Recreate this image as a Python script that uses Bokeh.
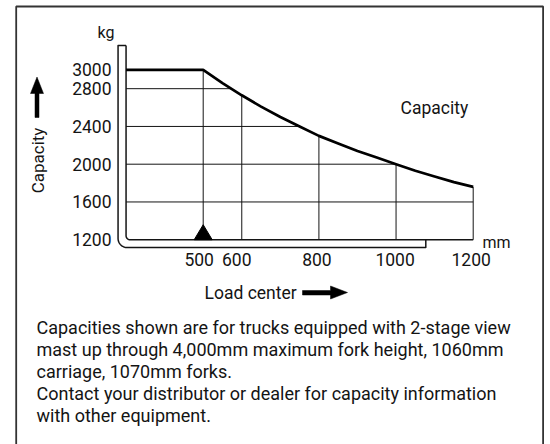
import numpy as np
from bokeh.plotting import figure
from bokeh.models import Range1d
from bokeh.core.properties import value
from bokeh.embed import file_html
from bokeh.resources import INLINE

# ---- data ----
load_center = [300, 500, 550, 600, 650, 700, 750, 800, 850, 900, 950, 1000, 1050, 1100, 1150, 1200]
capacity = [3000, 3000, 2860, 2730, 2610, 2500, 2400, 2300, 2220, 2140, 2070, 2000, 1930, 1870, 1810, 1760]
x_ticks = [500, 600, 800, 1000, 1200]
x_tick_labels = ["500", "600", "800", "1000", "1200"]
y_ticks = [3000, 2800, 2400, 2000, 1600, 1200]
y_tick_labels = ["3000", "2800", "2400", "2000", "1600", "1200"]
grid_levels = [2800, 2400, 2000, 1600]
grid_centers = [500, 600, 800, 1000, 1200]
note_lines = [
    "Capacities shown are for trucks equipped with 2-stage view",
    "mast up through 4,000mm maximum fork height, 1060mm",
    "carriage, 1070mm forks.",
    "Contact your distributor or dealer for capacity information",
    "with other equipment.",
]

FONT = "Roboto"
INK = "#141414"

# page-pixel scale of the drawing (figure sits at page origin)
OFF = 0
X500_PX, SX = 202.7, 0.3857   # px per mm
Y3000_PX, SY = 69.3, 0.0944   # px per kg
W, H = 550, 444


def px2x(px):
    return 500 + (px - X500_PX) / SX


def py2y(py):
    return 3000 - (py - Y3000_PX) / SY


def X(mm):
    return X500_PX + (mm - 500) * SX


def Y(kg):
    return Y3000_PX + (3000 - kg) * SY


def conv(pts):
    return [px2x(a) for a, b in pts], [py2y(b) for a, b in pts]


p = figure(width=W, height=H, output_backend="svg", toolbar_location=None,
           x_range=Range1d(px2x(OFF), px2x(OFF + W)), y_range=Range1d(py2y(OFF + H), py2y(OFF)),
           x_axis_location=None, y_axis_location=None, min_border=0,
           outline_line_color=None, background_fill_color="white", border_fill_color="white")
p.grid.visible = False

# outer frame (bottom edge is off-page)
fx, fy = conv([(15.7, OFF + H + 2), (15.7, 6.0), (542.6, 6.0), (542.6, OFF + H + 2)])
p.line(fx, fy, line_color="#333333", line_width=1.8)

# grid under the curve
lc = np.array(load_center, dtype=float)
cp = np.array(capacity, dtype=float)
xmin, ymin = load_center[0], y_ticks[-1]
h_end = [float(np.interp(v, cp[::-1], lc[::-1])) for v in grid_levels]
p.segment(x0=[xmin] * len(grid_levels), y0=grid_levels, x1=h_end, y1=grid_levels,
          line_color=INK, line_width=1)
v_top = [float(np.interp(t, lc, cp)) for t in grid_centers]
p.segment(x0=grid_centers, y0=[ymin] * len(grid_centers), x1=grid_centers, y1=v_top,
          line_color=INK, line_width=1)

# bracket-shaped axes (double line)
ix, iy = X(xmin), Y(ymin)
top_cap = 45.0
r_in, r_out = 4.0, 9.0
ox, oy = ix - 8.0, iy + 7.8
fork_end_px = 425.3
inner = [(ix, top_cap), (ix, iy - r_in)]
for a in np.linspace(np.pi, np.pi / 2, 10):
    inner.append((ix + r_in + r_in * np.cos(a), iy - r_in + r_in * np.sin(a)))
inner.append((X(x_ticks[-1]), iy))
outer = [(ix, top_cap), (ox, top_cap), (ox, oy - r_out)]
for a in np.linspace(np.pi, np.pi / 2, 12):
    outer.append((ox + r_out + r_out * np.cos(a), oy - r_out + r_out * np.sin(a)))
outer += [(fork_end_px, oy), (fork_end_px, iy)]
for path in (inner, outer):
    xs, ys = conv(path)
    p.line(xs, ys, line_color=INK, line_width=1.5, line_join="round")

# capacity curve
p.line(load_center, capacity, line_color="black", line_width=2.7, line_join="round")

# load-center marker triangle at 500
tx, ty = X(500), Y(ymin)
xs, ys = conv([(tx - 9, ty), (tx + 9, ty), (tx, ty - 15)])
p.patch(xs, ys, fill_color="black", line_color="black")

# tick labels
p.text(x=x_ticks, y=[ymin] * len(x_ticks), text=x_tick_labels, x_offset=[-4, -5, -2, -1, -2],
       y_offset=20, text_align="center", text_baseline="alphabetic",
       text_font=value(FONT), text_font_size="17.5px", text_color=INK)
p.text(x=[px2x(111)] * len(y_ticks), y=y_ticks, text=y_tick_labels,
       text_align="right", text_baseline="middle",
       text_font=value(FONT), text_font_size="17.5px", text_color=INK)

# units and labels
p.text(x=[px2x(97)], y=[py2y(31.5)], text=["kg"], text_align="left", text_baseline="alphabetic",
       text_font=value(FONT), text_font_size="16px", text_color=INK)
p.text(x=[px2x(482)], y=[py2y(242)], text=["mm"], text_align="left", text_baseline="alphabetic",
       text_font=value(FONT), text_font_size="16px", text_color=INK)
p.text(x=[px2x(400)], y=[py2y(107.5)], text=["Capacity"], text_align="left", text_baseline="alphabetic",
       text_font=value(FONT), text_font_size="17.5px", text_color=INK)
p.text(x=[px2x(37)], y=[py2y(160)], text=["Capacity"], angle=np.pi / 2,
       text_align="center", text_baseline="alphabetic",
       text_font=value(FONT), text_font_size="17px", text_color=INK)
p.text(x=[px2x(204)], y=[py2y(292.5)], text=["Load center"], text_align="left", text_baseline="alphabetic",
       text_font=value(FONT), text_font_size="17.5px", text_color=INK)

# arrows
xs, ys = conv([(36.5, 76.5), (43, 93), (38.5, 93), (38.5, 117), (34.5, 117), (34.5, 93), (30, 93)])
p.patch(xs, ys, fill_color="black", line_color="black", line_width=0.5)
xs, ys = conv([(347, 292), (330, 285.5), (330, 290), (302, 290), (302, 294.5), (330, 294.5), (330, 298.5)])
p.patch(xs, ys, fill_color="black", line_color="black", line_width=0.5)

# note text
base0, step = 327.0, 22.0
p.text(x=[px2x(36)] * len(note_lines), y=[py2y(base0 + i * step) for i in range(len(note_lines))],
       text=note_lines, text_align="left", text_baseline="alphabetic",
       text_font=value(FONT), text_font_size="18px", text_color=INK)

open("out.html", "w").write(file_html(p, INLINE))
